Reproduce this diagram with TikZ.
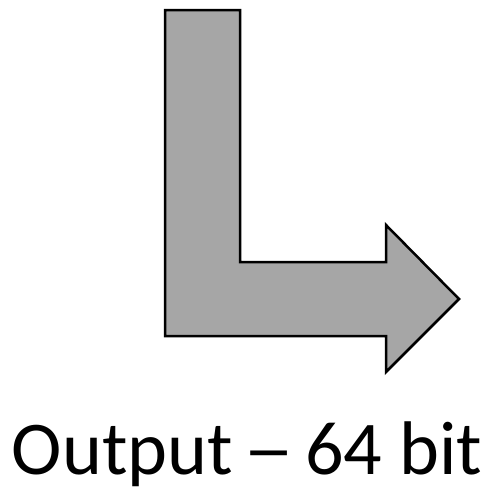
\documentclass[tikz,border=0pt]{standalone}
\usepackage{fontspec}
\setmainfont{Carlito}
\begin{document}
\begin{tikzpicture}[x=1pt,y=-1pt,
  arrowshape/.style={draw=black,fill=black!35,line width=2.5pt,line join=miter},
  label/.style={inner sep=0pt,anchor=base,font=\fontsize{76}{80}\selectfont}]
\useasboundingbox (0,0) rectangle (482,488);
\coordinate (p1) at (165,10);
\coordinate (p2) at (240,10);
\coordinate (p3) at (240,262);
\coordinate (p4) at (386,262);
\coordinate (p5) at (386,225);
\coordinate (p6) at (459,299);
\coordinate (p7) at (386,372);
\coordinate (p8) at (386,336);
\coordinate (p9) at (165,336);
\draw[arrowshape] (p1) -- (p2) -- (p3) -- (p4) -- (p5) -- (p6) -- (p7) -- (p8) -- (p9) -- cycle;
\node[label] (out) at (247,474) {Output \makebox[0.498em][c]{\scalebox{1.35}[1]{–}} 64 bit};
\end{tikzpicture}
\end{document}
